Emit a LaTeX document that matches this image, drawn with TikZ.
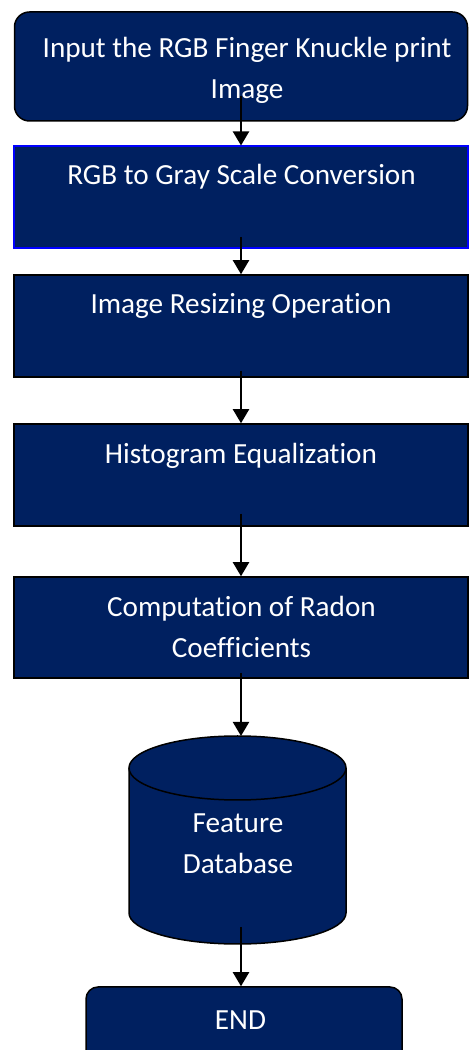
\documentclass[tikz,border=0pt]{standalone}
\usepackage{fontspec}
\setmainfont{Carlito}[RawFeature=-liga]
\usetikzlibrary{arrows.meta}
\definecolor{navy}{HTML}{002060}
\definecolor{edgeblue}{HTML}{0000FF}
\newcommand{\lblfont}{\fontsize{29.2}{40.5}\selectfont}
\begin{document}
\begin{tikzpicture}[x=1pt,y=1pt,
  box/.style={draw=black, line width=1.5pt, fill=navy, minimum width=454pt, minimum height=102pt, inner sep=0pt},
  rbox/.style={box, rounded corners=15pt},
  lbl/.style={text=white, font=\lblfont, align=center, anchor=north, inner sep=0pt},
  arr/.style={draw=black, line width=2pt, -{Triangle[width=16pt,length=14pt]}}]
\useasboundingbox (0,0) rectangle (469,1050);
\clip (0,0) rectangle (469,1050);

% process boxes
\node[rbox, minimum width=453pt, minimum height=109pt] (b1) at (241,983.5) {};
\node[box, draw=edgeblue, line width=2pt] (b2) at (241,852.5) {};
\node[box] (b3) at (241,724) {};
\node[box] (b4) at (241,575) {};
\node[box, minimum height=101pt] (b5) at (241,422.5) {};

% database cylinder
\path[fill=navy, draw=black, line width=1.5pt]
  (129,282) -- (129,137) arc[start angle=180, end angle=360, x radius=108.5, y radius=31]
  -- (346,282);
\path[fill=navy, draw=black, line width=1.5pt]
  (237.5,282) ellipse[x radius=108.5, y radius=32];
\coordinate (dbtop) at (241,314);
\coordinate (dbbot) at (241,106);

% terminal box
\node[rbox, rounded corners=12pt, minimum width=316pt, minimum height=78pt] (end) at (244,24) {};

% labels
\node[lbl] (t1) at (247,1021) {\strut Input the RGB Finger Knuckle print\\\strut Image};
\node[lbl] (t2) at (241.5,894) {\strut RGB to Gray Scale Conversion};
\node[lbl] (t3) at (241,765) {\strut Image Resizing Operation};
\node[lbl] (t4) at (241,615) {\strut Histogram Equalization};
\node[lbl] (t5) at (241.5,462) {\strut Computation of Radon\\\strut Coefficients};
\node[lbl] (t6) at (238,246) {\strut Feature\\\strut Database};
\node[lbl] (t7) at (240.5,49) {\strut END};

% connectors
\draw[arr] ([yshift=26pt]b1.south) -- (b2.north);
\draw[arr] ([yshift=12.5pt]b2.south) -- (b3.north);
\draw[arr] ([yshift=7pt]b3.south) -- (b4.north);
\draw[arr] ([yshift=13pt]b4.south) -- (b5.north);
\draw[arr] ([yshift=6pt]b5.south) -- (dbtop);
\draw[arr] ([yshift=17pt]dbbot) -- (dbbot |- end.north);
\end{tikzpicture}
\end{document}
